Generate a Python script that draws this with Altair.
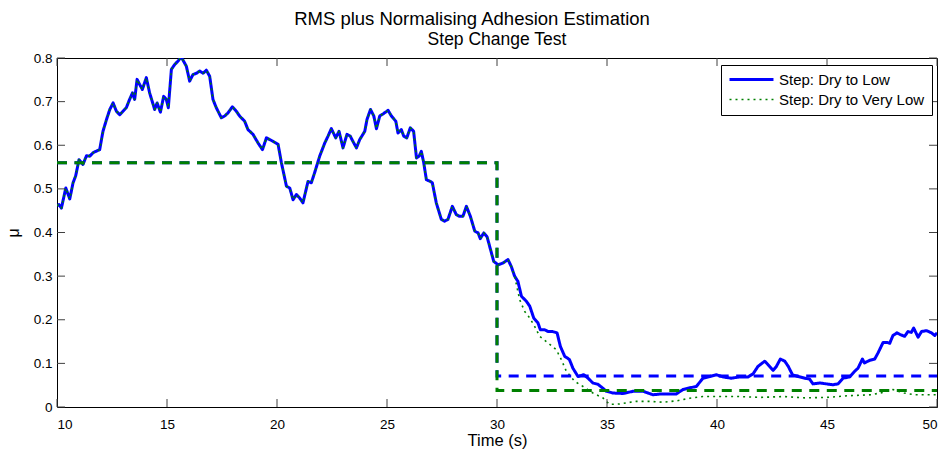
import altair as alt
import pandas as pd

# ---------------- data ----------------
title_main = "RMS plus Normalising Adhesion Estimation"
title_sub = "Step Change Test"
x_title = "Time (s)"
y_title = "μ"
series_names = ["Step: Dry to Low", "Step: Dry to Very Low"]
series_colors = ["#0000ff", "#008000"]

# Step: Dry to Low (blue, solid)
low_t = [10.0, 10.09, 10.2, 10.4, 10.58, 10.73, 10.85, 11.0, 11.18, 11.34,
         11.49, 11.64, 11.94, 12.09, 12.25, 12.4, 12.55, 12.7, 12.85, 13.0,
         13.15, 13.3, 13.43, 13.53, 13.64, 13.76, 13.88, 14.06, 14.21, 14.44,
         14.55, 14.7, 14.85, 14.97, 15.06, 15.2, 15.35, 15.5, 15.65, 15.88,
         16.03, 16.18, 16.34, 16.49, 16.64, 16.79, 16.94, 17.09, 17.24, 17.47,
         17.62, 17.77, 17.97, 18.15, 18.3, 18.53, 18.68, 18.91, 19.14, 19.34,
         19.52, 19.82, 20.05, 20.2, 20.43, 20.58, 20.73, 20.88, 21.03, 21.18,
         21.41, 21.56, 21.71, 21.94, 22.17, 22.32, 22.47, 22.67, 22.82, 23.0,
         23.18, 23.33, 23.45, 23.61, 23.76, 23.99, 24.09, 24.25, 24.4, 24.52,
         24.67, 24.85, 25.05, 25.2, 25.4, 25.5, 25.65, 25.76, 25.9, 26.06,
         26.21, 26.34, 26.46, 26.56, 26.67, 26.79, 26.97, 27.06, 27.24, 27.47,
         27.62, 27.77, 27.97, 28.15, 28.3, 28.45, 28.61, 28.79, 28.99, 29.14,
         29.24, 29.4, 29.55, 29.7, 29.85, 30.05, 30.27, 30.5, 30.65, 30.8,
         30.95, 31.11, 31.34, 31.49, 31.67, 31.86, 31.97, 32.17, 32.32, 32.52,
         32.73, 32.88, 33.08, 33.29, 33.45, 33.68, 33.94, 34.14, 34.36, 34.59,
         34.79, 34.97, 35.27, 35.73, 36.18, 36.64, 37.09, 37.47, 37.85, 38.15,
         38.45, 38.76, 39.06, 39.36, 39.67, 39.97, 40.27, 40.65, 41.03, 41.41,
         41.64, 41.86, 42.17, 42.32, 42.55, 42.7, 42.88, 43.08, 43.24, 43.43,
         43.68, 43.99, 44.21, 44.36, 44.67, 44.97, 45.27, 45.5, 45.73, 46.03,
         46.26, 46.41, 46.61, 46.7, 46.94, 47.17, 47.32, 47.55, 47.73, 47.85,
         48.0, 48.18, 48.33, 48.53, 48.68, 48.83, 48.94, 49.14, 49.3, 49.52,
         49.75, 49.9, 50.0]
low_mu = [0.462, 0.464, 0.456, 0.502, 0.477, 0.514, 0.530, 0.567, 0.556, 0.576,
          0.575, 0.583, 0.590, 0.632, 0.659, 0.682, 0.697, 0.678, 0.670, 0.678,
          0.686, 0.705, 0.720, 0.705, 0.751, 0.739, 0.728, 0.755, 0.720, 0.682,
          0.697, 0.676, 0.712, 0.705, 0.686, 0.774, 0.785, 0.793, 0.802, 0.781,
          0.747, 0.762, 0.765, 0.770, 0.765, 0.772, 0.758, 0.705, 0.686, 0.663,
          0.667, 0.674, 0.688, 0.678, 0.667, 0.655, 0.636, 0.625, 0.605, 0.590,
          0.617, 0.609, 0.602, 0.560, 0.506, 0.502, 0.475, 0.487, 0.479, 0.468,
          0.517, 0.514, 0.537, 0.575, 0.605, 0.621, 0.638, 0.617, 0.632, 0.594,
          0.625, 0.621, 0.609, 0.594, 0.613, 0.632, 0.659, 0.682, 0.667, 0.638,
          0.667, 0.673, 0.680, 0.667, 0.655, 0.628, 0.636, 0.621, 0.617, 0.640,
          0.632, 0.571, 0.575, 0.586, 0.560, 0.521, 0.517, 0.514, 0.468, 0.430,
          0.426, 0.430, 0.460, 0.441, 0.437, 0.437, 0.460, 0.437, 0.403, 0.399,
          0.386, 0.399, 0.390, 0.362, 0.334, 0.326, 0.330, 0.338, 0.322, 0.300,
          0.288, 0.254, 0.242, 0.231, 0.204, 0.193, 0.177, 0.177, 0.173, 0.173,
          0.170, 0.139, 0.116, 0.109, 0.089, 0.070, 0.074, 0.066, 0.055, 0.052,
          0.044, 0.036, 0.032, 0.031, 0.036, 0.036, 0.028, 0.030, 0.030, 0.030,
          0.040, 0.044, 0.047, 0.066, 0.070, 0.074, 0.069, 0.066, 0.069, 0.069,
          0.076, 0.093, 0.105, 0.097, 0.084, 0.093, 0.110, 0.105, 0.093, 0.074,
          0.070, 0.066, 0.064, 0.053, 0.055, 0.053, 0.051, 0.053, 0.066, 0.069,
          0.082, 0.089, 0.110, 0.101, 0.107, 0.110, 0.124, 0.148, 0.148, 0.146,
          0.164, 0.170, 0.166, 0.162, 0.173, 0.171, 0.181, 0.160, 0.173, 0.175,
          0.170, 0.164, 0.170]

# Step: Dry to Very Low (green, dotted): identical to the blue trace up to
# this time, then its own values
vlow_shared_until = 30.8
vlow_tail_t = [31.03, 31.26, 31.49, 31.71, 31.94, 32.32, 32.7, 32.93, 33.15, 33.53,
               33.91, 34.36, 34.81, 35.12, 35.58, 36.33, 36.94, 37.55, 38.15, 38.76,
               39.36, 40.0, 41.0, 42.0, 43.0, 44.0, 45.0, 46.0, 47.0, 47.5,
               48.0, 48.5, 49.0, 50.0]
vlow_tail_mu = [0.246, 0.219, 0.204, 0.185, 0.162, 0.147, 0.131, 0.108, 0.082, 0.059,
                0.047, 0.032, 0.021, 0.006, 0.007, 0.013, 0.013, 0.011, 0.014, 0.020,
                0.024, 0.024, 0.024, 0.022, 0.024, 0.021, 0.022, 0.026, 0.028, 0.033,
                0.040, 0.032, 0.028, 0.028]

# dashed reference (true adhesion) steps
ref_t = [10, 30, 30, 50]
ref_low_mu = [0.56, 0.56, 0.071, 0.071]
ref_vlow_mu = [0.56, 0.56, 0.038, 0.038]

x_ticks = [10, 15, 20, 25, 30, 35, 40, 45, 50]
y_ticks = [0, 0.1, 0.2, 0.3, 0.4, 0.5, 0.6, 0.7, 0.8]

# ---------------- tables ----------------
rows = []
for i, (t, m) in enumerate(zip(low_t, low_mu)):
    rows.append({"t": t, "mu": m, "series": series_names[0], "ord": i})
k = 0
for t, m in zip(low_t, low_mu):
    if t <= vlow_shared_until:
        rows.append({"t": t, "mu": m, "series": series_names[1], "ord": k})
        k += 1
for t, m in zip(vlow_tail_t, vlow_tail_mu):
    rows.append({"t": t, "mu": m, "series": series_names[1], "ord": k})
    k += 1
df = pd.DataFrame(rows)

ref_low_df = pd.DataFrame({"t": ref_t, "mu": ref_low_mu, "ord": range(len(ref_t))})
ref_vlow_df = pd.DataFrame({"t": ref_t, "mu": ref_vlow_mu, "ord": range(len(ref_t))})
xt_df = pd.DataFrame({"t": x_ticks})
yt_df = pd.DataFrame({"mu": y_ticks})

# ---------------- chart ----------------
W, H = 880, 349
FONT = "Liberation Sans"
TICK = 8
xs = alt.Scale(domain=[10, 50], nice=False, zero=False)
ys = alt.Scale(domain=[0, 0.8], nice=False, zero=True)

# legend symbol: a 44px horizontal line (custom path in the unit box)
leg = alt.Legend(
    title=None, orient="none", legendX=664, legendY=7,
    symbolType="M-1,0H6.33", symbolSize=144, labelFontSize=15, labelFont=FONT,
    labelColor="black", strokeColor="black", fillColor="white", padding=7,
    labelOffset=36, rowPadding=4,
)

x_axis = alt.Axis(values=x_ticks, ticks=False, domain=False, grid=False,
                  labelFontSize=13.5, labelPadding=10, labelColor="black",
                  title=x_title, titleFontSize=16.5, titleFontWeight="normal",
                  titleColor="black", titleX=440, titleY=38,
                  titleBaseline="alphabetic", titleAlign="center")
y_axis = alt.Axis(values=y_ticks, ticks=False, domain=False, grid=False,
                  format="~g", labelFontSize=13.5, labelPadding=5, labelColor="black",
                  title=y_title, titleFontSize=16, titleFontWeight="normal",
                  titleColor="black", titleX=-44, titleY=H / 2, titleAngle=270,
                  titleAlign="center", titleBaseline="middle")

X = alt.X("t:Q", scale=xs, axis=x_axis)
Y = alt.Y("mu:Q", scale=ys, axis=y_axis)

lines = alt.Chart(df).mark_line(clip=True, strokeJoin="round").encode(
    x=X, y=Y,
    color=alt.Color("series:N", scale=alt.Scale(domain=series_names, range=series_colors), legend=leg),
    strokeDash=alt.StrokeDash("series:N", scale=alt.Scale(domain=series_names, range=[[1, 0], [2, 4]]), legend=leg),
    strokeWidth=alt.StrokeWidth("series:N", scale=alt.Scale(domain=series_names, range=[3, 1.6]), legend=leg),
    order="ord:Q",
)

ref_blue = alt.Chart(ref_low_df).mark_line(color=series_colors[0], strokeWidth=3, strokeDash=[10, 7.5], clip=True).encode(
    x=X, y=Y, order="ord:Q")
ref_green = alt.Chart(ref_vlow_df).mark_line(color=series_colors[1], strokeWidth=3, strokeDash=[10, 7.5], clip=True).encode(
    x=X, y=Y, order="ord:Q")

tick_color = "#404040"
xt_bottom = alt.Chart(xt_df).mark_rule(color=tick_color, strokeWidth=1).encode(
    x=X, y=alt.value(H), y2=alt.value(H - TICK))
xt_top = alt.Chart(xt_df).mark_rule(color=tick_color, strokeWidth=1).encode(
    x=X, y=alt.value(0), y2=alt.value(TICK))
yt_left = alt.Chart(yt_df).mark_rule(color=tick_color, strokeWidth=1).encode(
    y=Y, x=alt.value(0), x2=alt.value(TICK))
yt_right = alt.Chart(yt_df).mark_rule(color=tick_color, strokeWidth=1).encode(
    y=Y, x=alt.value(W), x2=alt.value(W - TICK))

t_main = alt.Chart(pd.DataFrame({"label": [title_main]})).mark_text(
    font=FONT, fontSize=18.5, color="black", align="center", baseline="alphabetic").encode(
    text="label:N", x=alt.value(415), y=alt.value(-33))
t_sub = alt.Chart(pd.DataFrame({"label": [title_sub]})).mark_text(
    font=FONT, fontSize=17.5, color="black", align="center", baseline="alphabetic").encode(
    text="label:N", x=alt.value(440), y=alt.value(-13))

chart = alt.layer(
    lines, ref_blue, ref_green, xt_bottom, xt_top, yt_left, yt_right, t_main, t_sub
).properties(
    width=W, height=H,
    autosize=alt.AutoSizeParams(type="none"),
    padding={"left": 57, "top": 58, "right": 8, "bottom": 45},
    background="white",
).configure_view(
    stroke="black", strokeWidth=1
).configure_axis(
    labelFont=FONT, titleFont=FONT
).configure_legend(
    labelFont=FONT
)

chart.save("out.html", embed_options={"renderer": "svg", "actions": False})
